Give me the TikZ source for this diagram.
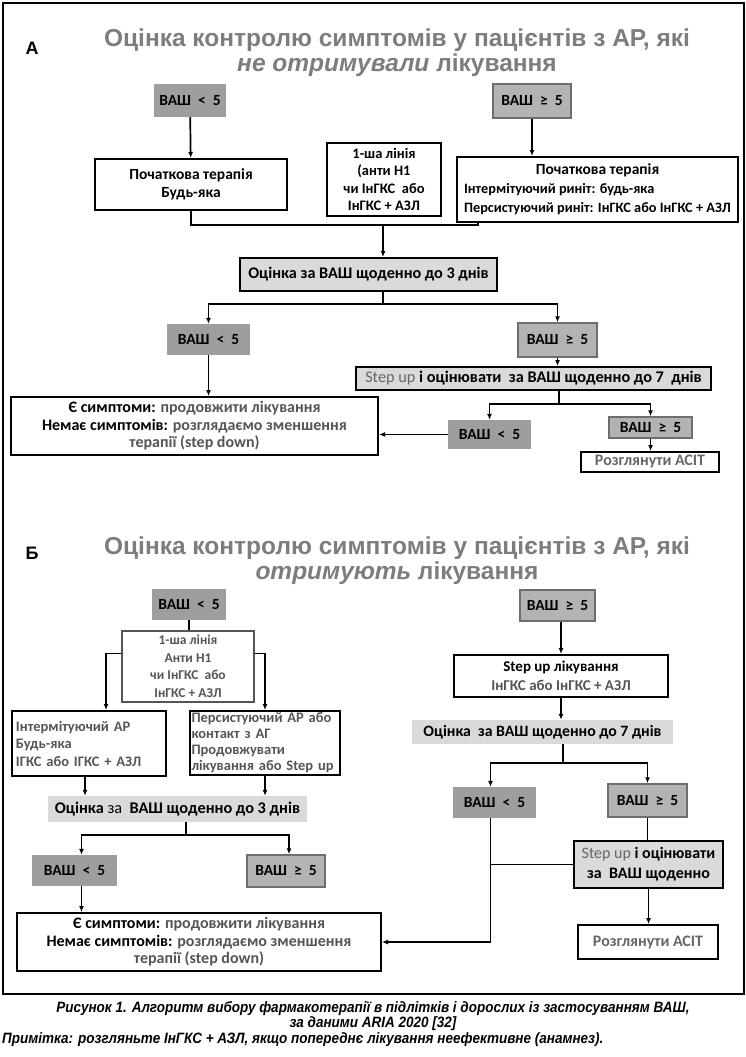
\documentclass[tikz,border=0pt]{standalone}
\usepackage{fontspec}
\setmainfont{Carlito}
\newfontfamily\headfont{Liberation Sans}
\newfontfamily\capfont[FakeStretch=0.9]{Liberation Sans}
\usetikzlibrary{arrows.meta,positioning,calc}
\definecolor{vashdark}{HTML}{9E9E9E}
\definecolor{vashmid}{HTML}{B3B3B3}
\definecolor{vashedge}{HTML}{6E6E6E}
\definecolor{evalgray}{HTML}{DADADA}
\definecolor{titlegray}{HTML}{7D7D7D}
\definecolor{txtgray}{HTML}{555555}
\definecolor{stepgray}{HTML}{666666}

\begin{document}
\begin{tikzpicture}[x=1pt,y=-1pt,
	fsz/.style={font=\bfseries\fontsize{#1}{17.5}\selectfont},
	fsz=15.5,
	vlo/.style={fill=vashdark, inner sep=0pt},
	vhi/.style={fill=vashmid, draw=vashedge, line width=1.5pt, inner sep=0pt},
	tbox/.style={draw, line width=2pt, align=center, inner sep=0pt},
	lbox/.style={draw, line width=1.2pt, align=center, inner sep=0pt},
	ebox/.style={fill=evalgray, draw, line width=2pt, align=center, inner sep=0pt},
	ebar/.style={fill=evalgray, inner sep=0pt},
	ttl/.style={text=titlegray, font=\headfont\bfseries\fontsize{24.5}{26}\selectfont, inner sep=0pt},
	lett/.style={font=\headfont\bfseries\fontsize{18}{22}\selectfont, inner sep=0pt},
	capt/.style={font=\capfont\bfseries\itshape\fontsize{15}{16}\selectfont, inner sep=0pt},
	arr/.style={line width=1.7pt, -{Latex[length=6pt,width=5pt]}},
	ln/.style={line width=1.7pt}]
	\useasboundingbox (0,0) rectangle (746,1057);
	%% frame round both parts
	\draw[line width=1.2pt] (3,3) rectangle (744,994);

	%% part A
	\node[lett] (a_let) at (32,48) {А};
	\node[ttl] (a_t1) at (397,40) {Оцінка контролю симптомів у пацієнтів з АР, які};
	\node[ttl] (a_t2) at (397,65) {\textit{не отримували} лікування};

	\node[vlo, minimum width=72, minimum height=33] (a_lo) at (190,100.5) {ВАШ ~<~ 5};
	\node[vhi, minimum width=78, minimum height=34] (a_hi) at (532,101) {ВАШ ~≥~ 5};
	\node[tbox, minimum width=192, minimum height=51] (a_start1) at (191,184.5) {Початкова терапія\\Будь-яка};
	\node[lbox, minimum width=114, minimum height=73, fsz=14.5] (a_line1) at (384,179.5) {1-ша лінія\\(анти Н1\\чи ІнГКС~ або\\ІнГКС + АЗЛ};
	\node[tbox, minimum width=281, minimum height=65, font=\bfseries\fontsize{14.3}{19}\selectfont] (a_start2) at (597.5,189.5)
		{\begin{tabular}{@{}l@{}}\multicolumn{1}{@{}c@{}}{\fontsize{15.5}{17}\selectfont Початкова терапія}\\Інтермітуючий риніт: будь-яка\\Персистуючий риніт: ІнГКС або ІнГКС + АЗЛ\end{tabular}};
	\coordinate (a_join) at (478,225);
	\coordinate (a_mid) at (383,225);
	\node[ebox, minimum width=257, minimum height=33, fsz=16.2] (a_eval3) at (368.5,274.5) {Оцінка за ВАШ щоденно до 3 днів};
	\coordinate (a_s1) at (383,304);
	\node[vlo, minimum width=83, minimum height=31] (a_lo2) at (208.5,339.5) {ВАШ ~<~ 5};
	\node[vhi, minimum width=79, minimum height=34] (a_hi2) at (557.5,340) {ВАШ ~≥~ 5};
	\node[ebox, minimum width=355, minimum height=23, fsz=16.3] (a_stepup) at (533.5,378.5) {\textcolor{stepgray}{\mdseries Step up} і оцінювати~ за ВАШ щоденно до 7~ днів};
	\node[tbox, minimum width=367, minimum height=58, fsz=16] (a_end) at (194.5,426)
		{Є симптоми: \textcolor{txtgray}{продовжити лікування}\\Немає симптомів: \textcolor{txtgray}{розглядаємо зменшення}\\\textcolor{txtgray}{терапії (step down)}};
	\coordinate (a_s2) at (559,404);
	\node[vlo, minimum width=83, minimum height=29] (a_lo3) at (489.5,434.5) {ВАШ ~<~ 5};
	\node[vhi, minimum width=83, minimum height=21] (a_hi3) at (650.5,427.5) {ВАШ ~≥~ 5};
	\node[tbox, minimum width=138, minimum height=20, text=stepgray, fsz=16] (a_acit) at (650,462) {Розглянути АСІТ};

	\draw[arr] (a_lo) -- (a_start1);
	\draw[arr] (a_hi.south) -- (a_hi.south |- a_start2.north);
	\draw[ln] (a_start1.south) |- (a_join) -- (a_join |- a_start2.south);
	\draw[arr] (a_mid) -- (a_mid |- a_eval3.north);
	\draw[ln] (a_eval3.south -| a_s1) -- (a_s1);
	\draw[arr] (a_s1) -| (a_lo2.north);
	\draw[arr] (a_s1) -| (a_hi2.north);
	\draw[arr] (a_lo2.south) -- (a_lo2.south |- a_end.north);
	\draw[arr] (a_hi2.south) -- (a_hi2.south |- a_stepup.north);
	\draw[ln] (a_stepup.south -| a_s2) -- (a_s2);
	\draw[arr] (a_s2) -| (a_lo3.north);
	\draw[arr] (a_s2) -| (a_hi3.north);
	\draw[arr] (a_lo3.west) -- (a_lo3.west -| a_end.east);
	\draw[arr] (a_hi3.south) -- (a_hi3.south |- a_acit.north);

	%% part B
	\node[lett] (b_let) at (32,553) {Б};
	\node[ttl] (b_t1) at (397,548) {Оцінка контролю симптомів у пацієнтів з АР, які};
	\node[ttl] (b_t2) at (397,573) {\textit{отримують} лікування};

	\node[vlo, minimum width=74, minimum height=31] (b_lo) at (189,604.5) {ВАШ ~<~ 5};
	\node[vhi, minimum width=75, minimum height=31] (b_hi) at (557.5,605.5) {ВАШ ~≥~ 5};
	\node[lbox, draw=txtgray, minimum width=132, minimum height=71, text=txtgray, fsz=13.5] (b_line1) at (188,666.5) {1-ша лінія\\Анти Н1\\чи ІнГКС~ або\\ІнГКС + АЗЛ};
	\node[tbox, minimum width=154, minimum height=65, align=left, text=txtgray, text width=146, font=\bfseries\fontsize{14.5}{17.5}\selectfont] (b_int) at (89,743.5) {Інтермітуючий АР\\Будь-яка\\ІГКС або ІГКС + АЗЛ};
	\node[tbox, minimum width=150, minimum height=64, align=left, text=txtgray, text width=147, font=\bfseries\fontsize{14.5}{16}\selectfont] (b_pers) at (265,743) {Персистуючий АР або\\контакт з АГ\\Продовжувати\\лікування або Step up};
	\node[ebar, minimum width=259, minimum height=26, fsz=16.3] (b_eval3) at (177.5,809) {Оцінка {\mdseries за}~ ВАШ щоденно до 3 днів};
	\coordinate (b_s1) at (186,835);
	\node[vlo, minimum width=85, minimum height=31] (b_lo2) at (74.5,870.5) {ВАШ ~<~ 5};
	\node[vhi, minimum width=78, minimum height=32] (b_hi2) at (286,871) {ВАШ ~≥~ 5};
	\node[tbox, minimum width=364, minimum height=58, fsz=16] (b_end) at (199,942)
		{Є симптоми: \textcolor{txtgray}{продовжити лікування}\\Немає симптомів: \textcolor{txtgray}{розглядаємо зменшення}\\\textcolor{txtgray}{терапії (step down)}};

	\node[tbox, minimum width=214, minimum height=42, font=\bfseries\fontsize{15}{19}\selectfont] (b_stepup1) at (561,676) {Step up лікування\\\textcolor{txtgray}{ІнГКС або ІнГКС + АЗЛ}};
	\node[ebar, minimum width=261, minimum height=24, fsz=15.8] (b_eval7) at (542.5,732) {Оцінка~ за ВАШ щоденно до 7 днів};
	\coordinate (b_s2) at (563,763);
	\node[vlo, minimum width=83, minimum height=31] (b_lo3) at (494.5,802.5) {ВАШ ~<~ 5};
	\node[vhi, minimum width=79, minimum height=33] (b_hi3) at (647.5,800.5) {ВАШ ~≥~ 5};
	\node[ebox, minimum width=149, minimum height=47, font=\bfseries\fontsize{16}{20}\selectfont] (b_stepup2) at (648.5,864.5) {\textcolor{stepgray}{\mdseries Step up} і оцінювати\\за~ ВАШ щоденно};
	\node[tbox, minimum width=140, minimum height=34, text=stepgray, fsz=16] (b_acit) at (648,942) {Розглянути АСІТ};

	\draw[ln] (b_lo.south) -- (b_lo.south |- b_line1.north);
	\draw[arr] ([yshift=13pt]b_line1.west) -| ([xshift=17pt]b_int.north);
	\draw[arr] ([yshift=13pt]b_line1.east) -| (b_pers.north);
	\draw[arr] ([xshift=-4pt]b_int.south) -- ([xshift=-4pt]b_int.south |- b_eval3.north);
	\draw[arr] (b_pers.south) -- (b_pers.south |- b_eval3.north);
	\draw[ln] (b_eval3.south -| b_s1) -- (b_s1);
	\draw[arr] (b_s1) -| ([xshift=7pt]b_lo2.north);
	\draw[arr] (b_s1) -| ([xshift=3pt]b_hi2.north);
	\draw[arr] ([xshift=7pt]b_lo2.south) -- ([xshift=7pt]b_lo2.south |- b_end.north);

	\draw[arr] (b_hi.south -| b_stepup1) -- (b_stepup1.north);
	\draw[arr] (b_stepup1.south) -- (b_stepup1.south |- b_eval7.north);
	\draw[ln] (b_eval7.south -| b_s2) -- (b_s2);
	\draw[arr] (b_s2) -| ([xshift=-4pt]b_lo3.north);
	\draw[arr] (b_s2) -| (b_hi3.north);
	\draw[arr] ([xshift=-4pt]b_lo3.south) |- (b_end.east);
	\draw[ln] (b_hi3.south) -- (b_hi3.south |- b_stepup2.north);
	\draw[ln] ([xshift=-4pt]b_lo3.south |- b_stepup2.west) -- (b_stepup2.west);
	\draw[arr] (b_stepup2.south) -- (b_stepup2.south |- b_acit.north);

	%% caption
	\node[capt] (cap1) at (373,1009) {Рисунок 1. Алгоритм вибору фармакотерапії в підлітків і дорослих із застосуванням ВАШ,};
	\node[capt] (cap2) at (373,1024) {за даними ARIA 2020 [32]};
	\node[capt, anchor=west] (cap3) at (2,1040) {Примітка: розгляньте ІнГКС + АЗЛ, якщо попереднє лікування неефективне (анамнез).};
\end{tikzpicture}
\end{document}
